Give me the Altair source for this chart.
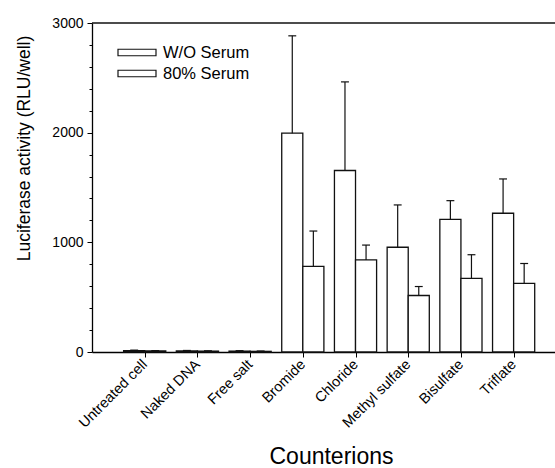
import altair as alt
import pandas as pd

categories = ["Untreated cell", "Naked DNA", "Free salt", "Bromide",
              "Chloride", "Methyl sulfate", "Bisulfate", "Triflate"]
series = ["W/O Serum", "80% Serum"]
wo_serum = [12, 10, 8, 1995, 1655, 955, 1210, 1265]
wo_serum_err = [5, 4, 4, 888, 808, 386, 170, 313]
serum80 = [10, 8, 6, 780, 840, 515, 672, 625]
serum80_err = [3, 3, 3, 323, 135, 82, 215, 182]
y_ticks = [0, 1000, 2000, 3000]
y_minor_ticks = [v for v in range(0, 3001, 200) if v not in y_ticks]

rows = []
for i, c in enumerate(categories):
    rows.append(dict(category=c, idx=i + 1, series=series[0], side=-1,
                     value=wo_serum[i], err=wo_serum_err[i]))
    rows.append(dict(category=c, idx=i + 1, series=series[1], side=1,
                     value=serum80[i], err=serum80_err[i]))
df = pd.DataFrame(rows)

FONT = "Liberation Sans"
INK = "#111111"

base = alt.Chart(df).transform_calculate(
    x0="datum.idx + (datum.side < 0 ? -0.4 : 0)",
    x1="datum.idx + (datum.side < 0 ? 0 : 0.4)",
    xc="datum.idx + datum.side * 0.2",
    cl="datum.idx + datum.side * 0.2 - 0.075",
    cr="datum.idx + datum.side * 0.2 + 0.075",
    top="datum.value + datum.err",
    zero="0",
)

xscale = alt.Scale(domain=[0, 8.785], nice=False, zero=False)
yscale = alt.Scale(domain=[y_ticks[0], y_ticks[-1]], nice=False, padding=0)

label_js = "[" + ",".join("'" + c + "'" for c in categories) + "]"

xaxis = alt.Axis(
    values=list(range(1, len(categories) + 1)),
    labelExpr=label_js + "[datum.value - 1]",
    labelAngle=-45, labelAlign="right", labelBaseline="middle",
    labelFontSize=14.5, labelPadding=5, labelFlush=False,
    labelOverlap=False,
    tickSize=5, tickWidth=1, domainWidth=1.5,
    titleFontSize=23, titleX=239, titleY=111, titleBaseline="alphabetic",
    titleAlign="center",
)

yaxis = alt.Axis(
    values=y_ticks, format="d", labelFontSize=14, labelPadding=4,
    labelOverlap=False, labelFlush=False,
    tickSize=5, tickWidth=1, domainWidth=1.3, orient="left",
    titleFontSize=17.5, titleX=-63, titleY=125, titleBaseline="alphabetic",
    titleAlign="center",
)

yaxis_minor = alt.Axis(
    values=y_minor_ticks, labels=False, domain=False, tickSize=3,
    tickWidth=1, orient="left", title=None,
)

legend = alt.Legend(
    title=None, orient="none", legendX=25, legendY=20, padding=0,
    symbolType="M-1,-0.171H1V0.171H-1Z", symbolSize=1444,
    symbolStrokeColor=INK, symbolStrokeWidth=1.2, symbolFillColor="white",
    labelFont=FONT, labelFontSize=16.5, labelColor="black", labelOffset=6,
    clipHeight=19, rowPadding=2, symbolOffset=0,
)

bars = base.mark_bar(stroke=INK, strokeWidth=1.3).encode(
    x=alt.X("x0:Q", scale=xscale, axis=xaxis, title="Counterions"),
    x2="x1:Q",
    y=alt.Y("value:Q", scale=yscale, axis=yaxis,
            title="Luciferase activity (RLU/well)"),
    y2="zero:Q",
    color=alt.Color("series:N", scale=alt.Scale(domain=series,
                                                range=["white", "white"]),
                    legend=legend),
)

stems = base.mark_rule(color=INK, strokeWidth=1.2).encode(
    x="xc:Q", y=alt.Y("value:Q", axis=None), y2="top:Q")
caps = base.mark_rule(color=INK, strokeWidth=1.2).encode(
    x="cl:Q", x2="cr:Q", y=alt.Y("top:Q", axis=None))

topline = alt.Chart(pd.DataFrame({"v": [y_ticks[-1]]})).mark_rule(
    color=INK, strokeWidth=1.3).encode(y=alt.Y("v:Q", axis=yaxis_minor))

chart = alt.layer(bars, stems, caps, topline).resolve_axis(
    y="independent"
).properties(
    width=463, height=329,
    autosize=alt.AutoSizeParams(type="none"),
    padding={"left": 92, "top": 23, "right": 0, "bottom": 116},
).configure_view(stroke=None).configure_axis(
    grid=False, domainColor="black", tickColor="black", labelColor="black",
    titleColor="black", labelFont=FONT, titleFont=FONT,
    titleFontWeight="normal",
)

chart.save("out.html", embed_options={"renderer": "svg", "actions": False})
